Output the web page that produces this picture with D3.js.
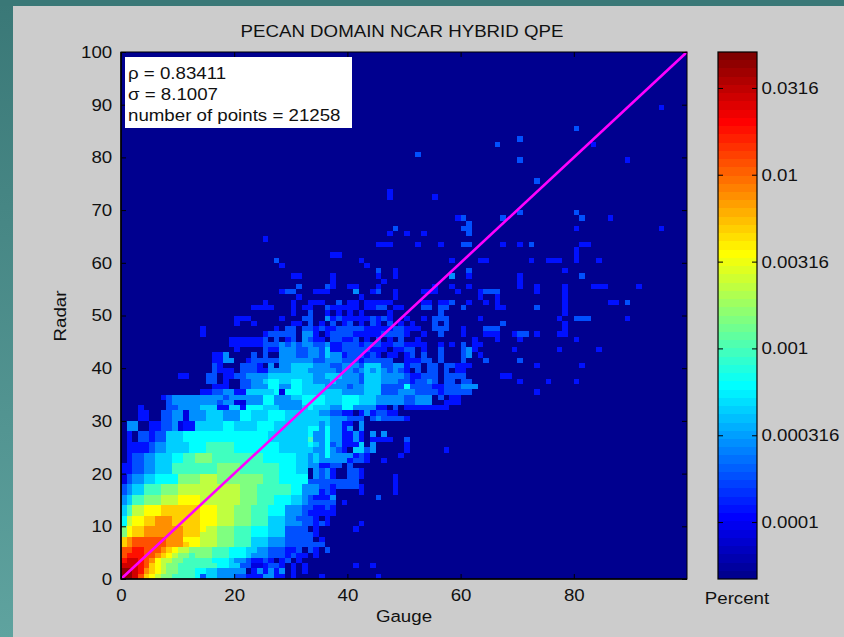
<!DOCTYPE html>
<html>
<head>
<meta charset="utf-8">
<script src="https://cdn.jsdelivr.net/npm/d3@7"></script>
<style>
  body { margin: 0; background: #cccccc; }
  svg { display: block; font-family: "Liberation Sans", Arial, Helvetica, sans-serif; }
</style>
</head>
<body>
<svg id="chart" width="844" height="637"></svg>
<script>
// ---- data ----
const titleText = "PECAN DOMAIN NCAR HYBRID QPE";
const xTicks = [0, 20, 40, 60, 80];
const yTicks = [0, 10, 20, 30, 40, 50, 60, 70, 80, 90, 100];
const colorTicks = [0.0001, 0.000316, 0.001, 0.00316, 0.01, 0.0316];
const colorTickLabels = ["0.0001", "0.000316", "0.001", "0.00316", "0.01", "0.0316"];
const statLines = ["\u03c1 = 0.83411", "\u03c3 = 8.1007", "number of points = 21258"];
const percentRange = [4.7e-5, 0.0509];

// percent value behind each colour code ('.' = empty bin)
const levelCodes = ".123456789abcdefg";
const levelValues = [0, 8.8e-5, 1.25e-4, 1.8e-4, 2.9e-4, 4.4e-4, 6.2e-4, 9.5e-4, 1.44e-3,
                     2.2e-3, 3.6e-3, 5.1e-3, 7.7e-3, 1.17e-2, 1.79e-2, 2.9e-2, 4.4e-2];

// [radar bin, codes for gauge bins from 0 (spaces only for reading), "n:" jumps to gauge bin n]
const densityRows = [
  [0,  "ggfdb a9887 77763 55444 33222 4422. 2.... 2.... ..... 2"],
  [1,  "ggfec ba988 77766 55444 44.24 2424. 2.2"],
  [2,  "fffed ba988 77777 77665 53311 2332. 2.2.. ..... .2..2"],
  [3,  "effed ca998 87777 76665 44322 32.23 .2..."],
  [4,  "deeed dcba9 88788 87776 66544 43332 322.2"],
  [5,  "ddeed ddcba 99888 87776 66554 43332 23.32 .3"],
  [6,  "bcddd dddcc cbaa9 99888 77755 54443 33333 3"],
  [7,  "bcddd dddcc caaa9 99888 77755 54443 3333. 2"],
  [8,  "8abbc ccccc cbbb9 99888 77766 65553 33332"],
  [9,  "8abbc ccccc cbbba 99888 77766 65553 333.2 ..... .2"],
  [10, "69aab bcccb bbbba aa999 88877 75554 44332 32... ..2"],
  [11, "69aab bcccb bbbba aa999 88877 75554 43332 .2"],
  [12, "5799a aabbb bbbba aa999 88877 76664 44322 222"],
  [13, "5799a aabbb bbbba aa999 88877 76664 44332 232"],
  [14, "45778 88999 aaaa9 99999 98887 77666 55433 333.2"],
  [15, "45778 88999 aaaa9 99999 98887 77666 55432 224.. ..... 3"],
  [16, "34557 77888 99999 99999 98887 77777 66444 232.. ..2.. ...2"],
  [17, "34557 77888 99999 99999 98887 77777 66444 33233 332.. ...2"],
  [18, "13445 56666 88889 99888 88888 77766 66633 33333 33... ...2"],
  [19, "13445 56666 88889 99888 88888 77766 666.4 342.. 332.. ...2"],
  [20, "22334 45557 77777 77888 87777 77766 655.4 342.. 332.."],
  [21, "22334 45557 77777 77888 87777 77766 65544 2233. 3"],
  [22, ".2334 45556 67788 87777 77777 66666 65545 44444 2332. .2"],
  [23, ".2334 45556 67788 87777 77777 66666 65545 46444 4232. ....2"],
  [24, ".2222 34455 55666 77777 66666 66655 55554 46432 .5534 ..... 2.... ..2"],
  [25, ".2222 34455 55666 77777 66666 66655 55565 46342 225.4 ..... 2"],
  [26, ".2.33 23355 56666 66666 66666 65555 55574 46442 242.2 222.. 3"],
  [27, ".2.33 23355 56666 66666 66666 65555 55564 46442 242.4 .4"],
  [28, ".44.. 22334 12255 55566 55556 66555 55566 46442 4.4"],
  [29, ".44.. 22334 12255 55566 55556 66555 55555 45442 2.4"],
  [30, "...22 ..334 41444 55544 46655 56665 55555 55444 333.3 43333 2"],
  [31, "...22 ..334 41444 55544 46655 56665 55555 44332 2.242 3322"],
  [32, "...2. ...33 44445 55225 52666 55544 44565 55446 64444 22.3. 22222 222"],
  [33, "..... ...34 44444 44344 11444 66444 44666 65556 66555 44444 33444 ..222"],
  [34, "..... ..234 44444 44434 44444 66444 55666 65556 66555 44444 33444 .3.22"],
  [35, "14:2 23344 22555 55616 66555 55554 44455 53334 44333 32333 33 73:2"],
  [36, "15:.222. .3344 46644 66555 54444 34455 53333 63333 22333 444"],
  [37, "15:33.2. .3344 56655 66554 44544 44355 54443 32334 3.33. 33 70:2 75:2 80:2"],
  [38, "10:22... 33.22 33444 45555 55554 45554 44355 54444 32233 3.333 3 67:22"],
  [39, "15:.3222 .3332 24444 55544 44434 43454 54343 2.3.3 3.3.2 2"],
  [40, "15:.32.. .3332 .4.44 55554 44334 44355 53344 233.3 3.332 22 73:2 81:2"],
  [41, "15:.2244 ..233 33344 44443 34443 33233 333.. 22233 .3... 3...3 70:3"],
  [42, "15:.224. ...3. 3..44 43344 35442 33323 2.22. 23.3. .3... 34.2."],
  [43, "20:2.... 32244 43344 35223 33332 22.22 33.2. .3... 342.. 69:2 77:2 84:2"],
  [44, "19:2 22222 33343 43443 34223 33233 32233 2222. .2.2. 3.22."],
  [45, "19:2 22222 3.3.2 3.432 2.332 23.2. 3.2.3 ..2.. ..... ..2.. .2... 2 80:2"],
  [46, "14:2 25:23333 3.442 .2333 32222 23333 2..2. .3... 2...2 22..2 33.2. ..22."],
  [47, "14:2 25:..2.3 3.332 32233 33322 22233 222.. 333.. 2...3 33 78:2"],
  [48, "20:2..2. 30:22.3. 2.3.2 3.2.3 2.3.2 .2... 3.3.. 67:3 78:2"],
  [49, "20:222.. ...2. ..33. .4232 22223 232.. 2..2. 333.. ...2. 77:2 80:333 89:2"],
  [50, "30:2..3. .2.2. 2.2.. ..2.. 56:3 78:2"],
  [51, "23:22 22... 2.22. .3222 22.22 33.22 ...33 .33.. 3 66:22 73:3 78:2"],
  [52, "25:2.... 2..22 2..3. 22.22 222.. ...22 .223. .2..2 .2 78:2 86:22.3"],
  [53, "31:2 42:2 48:2 63:2 66:2 78:2"],
  [54, "28:23 3...2 22... .4..2 3..2. ...22 2...2 ...23 33 73:2 78:2"],
  [55, "31:3 36:32 40:22 45:2 55:2 58:2 61:2 70:2 73:2 78:2 83:222 91:2"],
  [56, "37:2 46:2 70:2"],
  [57, "30:22 37:2 45:2 48:2 58:4 61:2 70:2 81:3"],
  [58, "45:3 48:2 61:3 78:2"],
  [59, "28:2 43:2"],
  [60, "27:3 42:2 58:2 63:22 72:2 75:222 80:2 84:2"],
  [61, "37:22 80:2"],
  [62, "80:2"],
  [63, "45:222 52:2 56:2 60:33 67:2 70:2 72:3 81:22"],
  [64, "25:2"],
  [65, "47:2 50:2 53:2 61:3"],
  [66, "48:3 60:33 80:2 95:2"],
  [67, "61:3"],
  [68, "59:23 67:3 81:3 86:2"],
  [69, "70:3 80:3"],
  [72, "47:2 55:2"],
  [73, "47:2"],
  [75, "73:3"],
  [79, "70:3 89:2"],
  [80, "52:3"],
  [82, "66:3 83:2"],
  [83, "70:3"],
  [85, "80:3"],
  [89, "95:2"]
];

// ---- unpack the rows into bins ----
const cells = [];
densityRows.forEach(([radar, spec]) => {
  let gauge = 0;
  spec.split(" ").forEach(tok => {
    let codes = tok;
    if (tok.includes(":")) {
      const parts = tok.split(":");
      gauge = +parts[0];
      codes = parts[1];
    }
    for (const ch of codes) {
      const k = levelCodes.indexOf(ch);
      if (k > 0) cells.push({ gauge, radar, value: levelValues[k] });
      gauge++;
    }
  });
});

// ---- layout ----
const width = 844, height = 637;
const plot = { left: 121, right: 687, top: 52, bottom: 579 };
const cbar = { left: 718, right: 757 };
const textStretch = "scale(1.1,1)";

const svg = d3.select("#chart");

// slide background: grey panel with a teal frame on the top and left
const defs = svg.append("defs");
const grad = defs.append("linearGradient").attr("id", "teal").attr("x1", 0).attr("x2", 0).attr("y1", 0).attr("y2", 1);
grad.append("stop").attr("offset", "0%").attr("stop-color", "#3a7877");
grad.append("stop").attr("offset", "100%").attr("stop-color", "#5fa39f");

svg.append("rect").attr("width", width).attr("height", height).attr("fill", "#cccccc");
svg.append("rect").attr("width", 13).attr("height", height).attr("fill", "url(#teal)");
svg.append("rect").attr("width", width).attr("height", 6).attr("fill", "#3a7877");

// jet colormap (64 steps, as in MATLAB)
const jet = d3.scaleLinear()
    .domain([0, 7 / 63, 23 / 63, 39 / 63, 55 / 63, 1])
    .range(["#00008f", "#0000ff", "#00ffff", "#ffff00", "#ff0000", "#800000"])
    .clamp(true);
const level = d3.scaleLog().domain(percentRange).range([0, 1]).clamp(true);
const colorOf = v => jet(Math.min(63, Math.floor(level(v) * 64)) / 63);

// scales
const x = d3.scaleLinear().domain([0, 100]).range([plot.left, plot.right]);
const y = d3.scaleLinear().domain([0, 100]).range([plot.bottom, plot.top]);

// plot background = lowest colour
svg.append("rect")
    .attr("x", plot.left).attr("y", plot.top)
    .attr("width", plot.right - plot.left).attr("height", plot.bottom - plot.top)
    .attr("fill", jet(0));

// 2d histogram bins
svg.append("g")
    .attr("shape-rendering", "crispEdges")
    .selectAll("rect")
    .data(cells)
    .join("rect")
    .attr("x", d => x(d.gauge))
    .attr("y", d => y(d.radar + 1))
    .attr("width", d => x(d.gauge + 1) - x(d.gauge))
    .attr("height", d => y(d.radar) - y(d.radar + 1))
    .attr("fill", d => colorOf(d.value));

// one-to-one line
svg.append("line")
    .attr("x1", x(0)).attr("y1", y(0))
    .attr("x2", x(100)).attr("y2", y(100))
    .attr("stroke", "#ff00ff")
    .attr("stroke-width", 2.6);

// axes
const xAxis = svg.append("g")
    .attr("transform", `translate(0,${plot.bottom})`)
    .call(d3.axisBottom(x).tickValues(xTicks).tickSizeInner(-5).tickSizeOuter(0).tickPadding(10));
const yAxis = svg.append("g")
    .attr("transform", `translate(${plot.left},0)`)
    .call(d3.axisLeft(y).tickValues(yTicks).tickSizeInner(-5).tickSizeOuter(0).tickPadding(8));
svg.append("g")
    .attr("transform", `translate(${plot.right},0)`)
    .call(d3.axisRight(y).tickValues(yTicks).tickSizeInner(-5).tickSizeOuter(0).tickFormat(""));
svg.append("g")
    .attr("transform", `translate(0,${plot.top})`)
    .call(d3.axisTop(x).tickValues(xTicks).tickSizeInner(-5).tickSizeOuter(0).tickFormat(""));

svg.selectAll(".domain").remove();
svg.selectAll(".tick line").attr("stroke", "#000");
[xAxis, yAxis].forEach(a => a.selectAll("text")
    .attr("fill", "#111")
    .style("font-size", "17px")
    .attr("transform", textStretch));

// plot frame
svg.append("rect")
    .attr("x", plot.left).attr("y", plot.top)
    .attr("width", plot.right - plot.left).attr("height", plot.bottom - plot.top)
    .attr("fill", "none").attr("stroke", "#000").attr("stroke-width", 1);
svg.append("path")
    .attr("d", `M${plot.left},${plot.top}V${plot.bottom}H${plot.right}`)
    .attr("fill", "none").attr("stroke", "#000").attr("stroke-width", 1.5);

// text helper, stretched a little wider like the original
function label(px, py, txt, anchor, rotate) {
  return svg.append("text")
      .attr("transform", `translate(${px},${py})` + (rotate ? ` rotate(${rotate})` : "") + " " + textStretch)
      .attr("text-anchor", anchor)
      .attr("fill", "#111")
      .style("font-size", "17px")
      .text(txt);
}

label(402, 37, titleText, "middle");
label(404, 622, "Gauge", "middle");
label(66, 316, "Radar", "middle", -90);

// statistics box
svg.append("rect")
    .attr("x", 125).attr("y", 57).attr("width", 227).attr("height", 71)
    .attr("fill", "#fff");
statLines.forEach((t, k) => label(128, 79 + k * 21, t, "start"));

// colour bar
const cy = d3.scaleLog().domain(percentRange).range([plot.bottom, plot.top]);
const span = Math.log10(percentRange[1] / percentRange[0]);
svg.append("g")
    .attr("shape-rendering", "crispEdges")
    .selectAll("rect")
    .data(d3.range(64))
    .join("rect")
    .attr("x", cbar.left)
    .attr("width", cbar.right - cbar.left)
    .attr("y", k => cy(percentRange[0] * Math.pow(10, span * (k + 1) / 64)))
    .attr("height", k => cy(percentRange[0] * Math.pow(10, span * k / 64)) - cy(percentRange[0] * Math.pow(10, span * (k + 1) / 64)))
    .attr("fill", k => jet(k / 63));

svg.append("g")
    .attr("transform", `translate(${cbar.left},0)`)
    .call(d3.axisLeft(cy).tickValues(colorTicks).tickSizeInner(-5).tickSizeOuter(0).tickFormat(""))
    .call(g => g.select(".domain").remove());
const cAxis = svg.append("g")
    .attr("transform", `translate(${cbar.right},0)`)
    .call(d3.axisRight(cy).tickValues(colorTicks).tickSizeInner(-5).tickSizeOuter(0).tickPadding(4)
        .tickFormat((d, i) => colorTickLabels[i]));
cAxis.select(".domain").remove();
cAxis.selectAll("text")
    .attr("fill", "#111")
    .style("font-size", "17px")
    .attr("transform", textStretch);
svg.selectAll(".tick line").attr("stroke", "#000");

svg.append("rect")
    .attr("x", cbar.left).attr("y", plot.top)
    .attr("width", cbar.right - cbar.left).attr("height", plot.bottom - plot.top)
    .attr("fill", "none").attr("stroke", "#000").attr("stroke-width", 1.2);

label(737, 604, "Percent", "middle");
</script>
</body>
</html>
